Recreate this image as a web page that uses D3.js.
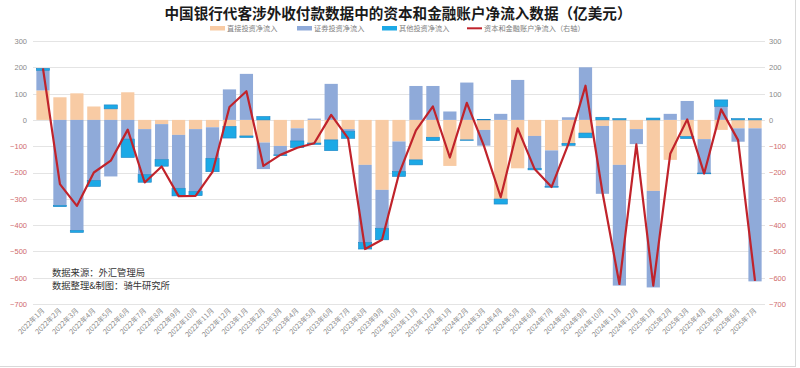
<!DOCTYPE html>
<html><head><meta charset="utf-8">
<script src="https://cdn.jsdelivr.net/npm/d3@7"></script>
<style>
html,body{margin:0;padding:0;background:#fff;}
svg{display:block;font-family:"Noto Sans CJK SC","Noto Sans",sans-serif;}
</style></head>
<body><svg id="c" width="800" height="368"></svg>
<script>
const categories = ["2022年1月","2022年2月","2022年3月","2022年4月","2022年5月","2022年6月","2022年7月","2022年8月","2022年9月","2022年10月","2022年11月","2022年12月",
"2023年1月","2023年2月","2023年3月","2023年4月","2023年5月","2023年6月","2023年7月","2023年8月","2023年9月","2023年10月","2023年11月","2023年12月",
"2024年1月","2024年2月","2024年3月","2024年4月","2024年5月","2024年6月","2024年7月","2024年8月","2024年9月","2024年10月","2024年11月","2024年12月",
"2025年1月","2025年2月","2025年3月","2025年4月","2025年5月","2025年6月","2025年7月"];
const direct = [112,86,101,51,42,105,-35,-16,-57,-35,-28,-25,-61,-86,-99,-32,-88,-76,-35,-171,-266,-82,-152,-66,-175,-76,-38,-301,-184,-61,-116,-89,-50,-23,-171,-35,-270,-152,-63,-73,-38,-32,-32];
const portfolio = [76,-325,-420,-230,-215,-73,-173,-135,-203,-237,-118,116,175,-101,-34,-48,5,137,-8,-295,-146,-114,129,129,32,142,-60,23,152,-123,-137,10,200,-258,-459,-57,-367,23,72,-129,51,-51,-582];
const other = [8,-5,-8,-23,15,-70,-29,-25,-29,-16,-51,-44,-6,13,-3,-25,-5,-41,-27,-25,-44,-19,-19,-13,0,-2,2,-19,0,-6,-3,-8,-18,10,5,0,7,0,-8,-3,25,5,5];
const net = [196,-244,-327,-200,-155,-37,-238,-177,-290,-289,-198,49,109,-175,-133,-106,-89,19,-70,-491,-456,-205,-40,51,-143,65,-97,-294,-32,-187,-255,-90,130,-275,-624,-93,-630,-129,2,-204,40,-77,-612];
const yTicks = [300,200,100,0,-100,-200,-300,-400,-500,-600,-700];
const seriesNames = ["直接投资净流入","证券投资净流入","其他投资净流入","资本和金融账户净流入（右轴）"];
const title = "中国银行代客涉外收付款数据中的资本和金融账户净流入数据（亿美元）";

const colors = ["#f8cba4","#8faad9","#1ca9e6"];
const lineColor = "#c0232b";

const svg = d3.select("#c");
const x = d3.scaleBand().domain(categories).range([34.5,763.5]).paddingInner(0.22).paddingOuter(0.11);
const y = d3.scaleLinear().domain([-700,300]).range([304,41]);
const yR = d3.scaleLinear().domain([-700,300]).range([304,41]);

// border lines
svg.append("line").attr("x1",0).attr("x2",795).attr("y1",366.5).attr("y2",366.5).attr("stroke","#d9d9d9");
svg.append("line").attr("x1",795.5).attr("x2",795.5).attr("y1",0).attr("y2",367).attr("stroke","#d9d9d9");

// grid
svg.append("g").selectAll("line").data(yTicks).join("line")
  .attr("x1",33).attr("x2",765).attr("y1",d=>Math.round(y(d))+0.5).attr("y2",d=>Math.round(y(d))+0.5)
  .attr("stroke","#e4e4e4").attr("stroke-width",1);

// left axis
const gl = svg.append("g").attr("transform","translate(29,0)")
  .call(d3.axisLeft(y).tickValues(yTicks).tickSize(0).tickPadding(2));
gl.select(".domain").remove();
gl.selectAll("text").attr("font-size",7.5).attr("fill",d=>d<0?"#cf6b6b":"#8a8a8a");
// right axis
const gr = svg.append("g").attr("transform","translate(767,0)")
  .call(d3.axisRight(yR).tickValues(yTicks).tickSize(0).tickPadding(2));
gr.select(".domain").remove();
gr.selectAll("text").attr("font-size",7.5).attr("fill",d=>d<0?"#cf6b6b":"#8a8a8a");

// stacked bars
const rows = categories.map((c,i)=>({cat:c,direct:direct[i],portfolio:portfolio[i],other:other[i]}));
const stack = d3.stack().keys(["direct","portfolio","other"]).offset(d3.stackOffsetDiverging);
const layers = stack(rows);
svg.append("g").selectAll("g").data(layers).join("g")
  .attr("fill",(d,i)=>colors[i])
  .attr("stroke",(d,i)=>i===2?"#1b83c4":"none").attr("stroke-width",(d,i)=>i===2?0.6:0)
  .selectAll("rect").data(d=>d).join("rect")
  .attr("x",d=>x(d.data.cat)).attr("width",x.bandwidth())
  .attr("y",d=>y(Math.max(d[0],d[1])))
  .attr("height",d=>Math.abs(y(d[0])-y(d[1])));

// line
const line = d3.line().x((d,i)=>x(categories[i])+x.bandwidth()/2).y(d=>yR(d));
svg.append("path").datum(net).attr("d",line).attr("fill","none")
  .attr("stroke",lineColor).attr("stroke-width",2.2).attr("stroke-linejoin","round");

// x labels
const gx = svg.append("g");
gx.selectAll("text").data(categories).join("text")
  .attr("transform",d=>`translate(${x(d)+x.bandwidth()/2+2},${311}) rotate(-45)`)
  .attr("text-anchor","end").attr("font-size",7).attr("fill","#8a8a8a").text(d=>d);

// title
svg.append("text").attr("x",398).attr("y",19).attr("text-anchor","middle")
  .attr("font-size",14.6).attr("font-weight","bold").attr("fill","#1a1a1a").text(title);

// legend
const leg = [{x:210,type:"rect",c:colors[0]},{x:297,type:"rect",c:colors[1]},{x:382,type:"rect",c:colors[2]},{x:467,type:"line",c:lineColor}];
const lg = svg.append("g");
leg.forEach((l,i)=>{
  if(l.type==="rect") lg.append("rect").attr("x",l.x).attr("y",26).attr("width",15).attr("height",4.5).attr("fill",l.c);
  else lg.append("line").attr("x1",l.x).attr("x2",l.x+15).attr("y1",28.3).attr("y2",28.3).attr("stroke",l.c).attr("stroke-width",2);
  lg.append("text").attr("x",l.x+17).attr("y",31).attr("font-size",7.2).attr("fill","#808080").text(seriesNames[i]);
});

// source
svg.append("text").attr("x",52).attr("y",276).attr("font-size",9.3).attr("fill","#333").text("数据来源：外汇管理局");
svg.append("text").attr("x",52).attr("y",289).attr("font-size",9.3).attr("fill","#333").text("数据整理&制图：骑牛研究所");
</script></body></html>
